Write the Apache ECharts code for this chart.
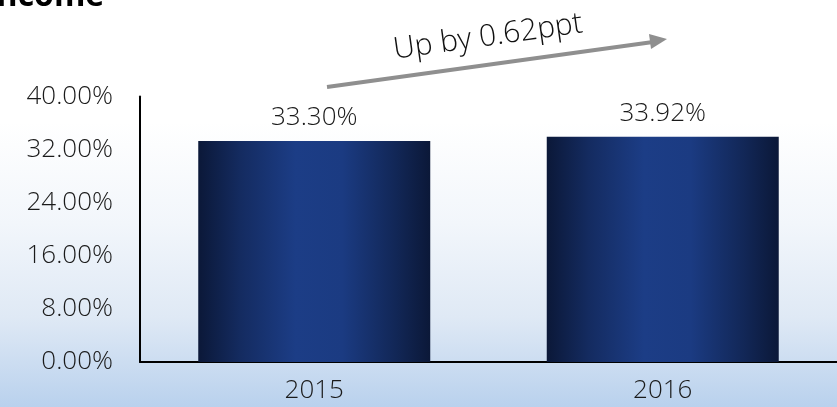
<!DOCTYPE html>
<html>
<head>
<meta charset="utf-8">
<script src="https://cdn.jsdelivr.net/npm/echarts@6/dist/echarts.min.js"></script>
<style>
html,body{margin:0;padding:0;background:#fff;}
#c{width:837px;height:407px;}
</style>
</head>
<body>
<div id="c"></div>
<script>
const categories = ['2015', '2016'];
const values = [33.30, 33.92];
const valueLabels = ['33.30%', '33.92%'];
const annotationText = 'Up by 0.62ppt';
const titleText = 'Income';

const FONT = '"Open Sans", "Noto Sans", sans-serif';
const chart = echarts.init(document.getElementById('c'));

const barGradient = new echarts.graphic.LinearGradient(0, 0, 1, 0, [
  {offset: 0, color: '#0b1838'},
  {offset: 0.18, color: '#142b60'},
  {offset: 0.42, color: '#1c3d86'},
  {offset: 0.62, color: '#1b3b82'},
  {offset: 0.85, color: '#122757'},
  {offset: 1, color: '#0b1838'}
]);

chart.setOption({
  animation: false,
  backgroundColor: new echarts.graphic.LinearGradient(0, 0, 0, 1, [
    {offset: 0, color: '#ffffff'},
    {offset: 0.3, color: '#ffffff'},
    {offset: 0.55, color: '#f2f6fb'},
    {offset: 0.78, color: '#dfe9f5'},
    {offset: 1, color: '#b9d1ed'}
  ]),
  grid: {left: 140, right: 0, top: 96.5, bottom: 45, containLabel: false},
  xAxis: {
    type: 'category',
    data: categories,
    axisLine: {show: true, lineStyle: {color: '#000', width: 2}},
    axisTick: {show: false},
    axisLabel: {color: '#1a1a1a', fontSize: 26, fontWeight: 300, fontFamily: FONT, margin: 16}
  },
  yAxis: {
    type: 'value',
    min: 0, max: 40, interval: 8,
    axisLine: {show: true, lineStyle: {color: '#000', width: 2}},
    axisTick: {show: false},
    splitLine: {show: false},
    axisLabel: {
      color: '#1a1a1a', fontSize: 26, fontWeight: 300, fontFamily: FONT, margin: 27,
      padding: [4, 0, 0, 0],
      formatter: v => v.toFixed(2) + '%'
    }
  },
  series: [{
    type: 'bar',
    data: values,
    barWidth: 232,
    itemStyle: {color: barGradient},
    label: {
      show: true, position: 'top', distance: 10,
      color: '#1a1a1a', fontSize: 26, fontWeight: 300, fontFamily: FONT,
      formatter: p => valueLabels[p.dataIndex]
    }
  }],
  graphic: [
    {
      type: 'text', left: -14, top: -19,
      style: {text: titleText, font: 'bold 32px ' + FONT, fill: '#000'}
    },
    {
      type: 'line',
      shape: {x1: 327, y1: 87, x2: 653, y2: 42},
      style: {stroke: '#8f8f8f', lineWidth: 4}
    },
    {
      type: 'polygon',
      shape: {points: [[667, 39], [649, 34], [651, 49]]},
      style: {fill: '#8f8f8f'}
    },
    {
      type: 'text', x: 488, y: 37, rotation: 8 * Math.PI / 180,
      style: {text: annotationText, font: '300 30px ' + FONT, fill: '#111', align: 'center', verticalAlign: 'middle'}
    }
  ]
});
</script>
</body>
</html>
